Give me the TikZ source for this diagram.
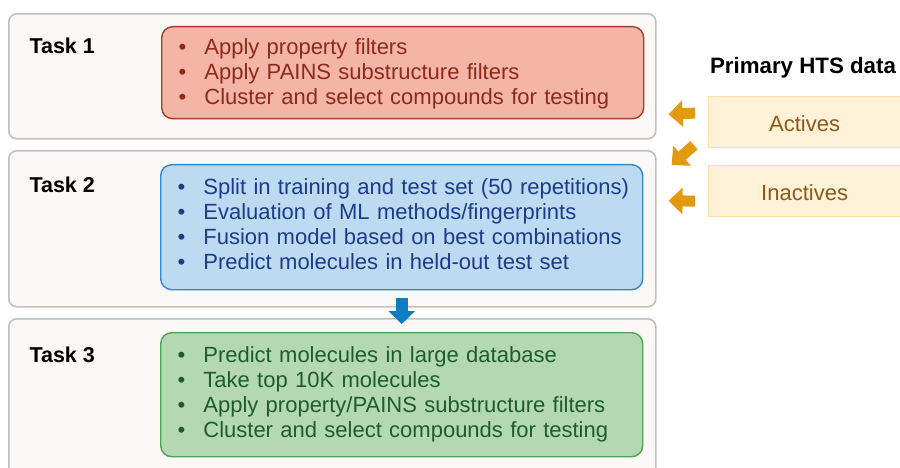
\documentclass[tikz,border=0pt]{standalone}
\usepackage{fontspec}
\setmainfont{Liberation Sans}
\usetikzlibrary{arrows.meta,calc}

\definecolor{panelfill}{HTML}{FBF8F6}
\definecolor{panelline}{HTML}{C2C0BF}
\definecolor{redfill}{HTML}{F4B5A7}
\definecolor{redline}{HTML}{A0402C}
\definecolor{redtext}{HTML}{8C2A1B}
\definecolor{bluefill}{HTML}{BCDBF0}
\definecolor{blueline}{HTML}{2E8ACB}
\definecolor{bluetext}{HTML}{1E3A8A}
\definecolor{greenfill}{HTML}{B3D8B2}
\definecolor{greenline}{HTML}{4FA35B}
\definecolor{greentext}{HTML}{1D5E28}
\definecolor{datafill}{HTML}{FFF2D8}
\definecolor{dataline}{HTML}{F9DFA6}
\definecolor{datatext}{HTML}{8A5A16}
\definecolor{orangearrow}{HTML}{E29A0E}
\definecolor{bluearrow}{HTML}{0B7DC2}

\newcommand{\bulletlist}[1]{%
  \begin{tabular}{@{}l@{\hspace{18pt}}l@{}}#1\end{tabular}}
% lower content without changing the space it takes
\newcommand{\lowerby}[2]{\raisebox{-#1}[\height][\depth]{#2}}

\tikzset{
  x=1pt, y=-1pt,
  panel/.style={draw=panelline, fill=panelfill, line width=1.6pt,
    rounded corners=8pt, anchor=north west, minimum width=647pt, inner sep=0pt},
  taskbox/.style={rounded corners=11pt, line width=1.4pt, anchor=north west,
    minimum width=482pt, text width=448pt, inner xsep=17pt, inner ysep=0pt,
    font=\fontsize{22}{25}\selectfont},
  tasklabel/.style={anchor=base west, font=\fontsize{21.5}{25}\selectfont\bfseries},
  databox/.style={draw=dataline, fill=datafill, line width=1.2pt, anchor=north west,
    minimum width=192pt, minimum height=51pt, inner sep=0pt,
    text=datatext, font=\fontsize{22}{25}\selectfont},
  feedarrow/.style={orangearrow, line width=11pt,
    -{Triangle[length=14pt,width=26pt]}},
  flowarrow/.style={bluearrow, line width=12pt,
    -{Triangle[length=13pt,width=26pt]}}
}

\begin{document}
\begin{tikzpicture}
\useasboundingbox (0,0) rectangle (900,468);

% three task panels
\node[panel, minimum height=125pt] (p1) at (8,13) {};
\node[panel, minimum height=156pt] (p2) at (8,150) {};
\node[panel, minimum height=165pt] (p3) at (8,318) {};

\node[tasklabel] (l1) at (26,54) {Task 1};
\node[tasklabel] (l2) at (26,193) {Task 2};
\node[tasklabel] (l3) at (26,362) {Task 3};

% coloured step boxes
\node[taskbox, draw=redline, fill=redfill, text=redtext, minimum height=92pt]
  (b1) at (161,26) {\lowerby{2pt}{\bulletlist{%
  • & Apply property filters\\
  • & Apply PAINS substructure filters\\
  • & Cluster and select compounds for testing}}};

\node[taskbox, draw=blueline, fill=bluefill, text=bluetext, minimum height=125pt]
  (b2) at (160,164) {\bulletlist{%
  • & Split in training and test set (50 repetitions)\\
  • & Evaluation of ML methods/fingerprints\\
  • & Fusion model based on best combinations\\
  • & Predict molecules in held-out test set}};

\node[taskbox, draw=greenline, fill=greenfill, text=greentext, minimum height=124pt]
  (b3) at (160,332) {\bulletlist{%
  • & Predict molecules in large database\\
  • & Take top 10K molecules\\
  • & Apply property/PAINS substructure filters\\
  • & Cluster and select compounds for testing}};

% screening data
\node[anchor=base, font=\fontsize{22.3}{25}\selectfont\bfseries] (hts) at (803,74) {Primary HTS data};
\node[databox] (act) at (708,96) {\lowerby{2pt}{Actives}};
\node[databox] (inact) at (708,165) {\lowerby{2pt}{Inactives}};

% arrows
\draw[feedarrow] ($(act.west)+(-13,-9)$) -- ($(p1.east)+(12,38)$);
\draw[feedarrow] ($(act.south west)+(-14,-3)$) -- ($(p2.north east)+(15,15)$);
\draw[feedarrow] ($(inact.west)+(-13,10)$) -- ($(p2.east)+(12,-28)$);
\draw[flowarrow] ($(b2.south)+(0,8)$) -- ($(b3.north)+(0,-8)$);
\end{tikzpicture}
\end{document}
